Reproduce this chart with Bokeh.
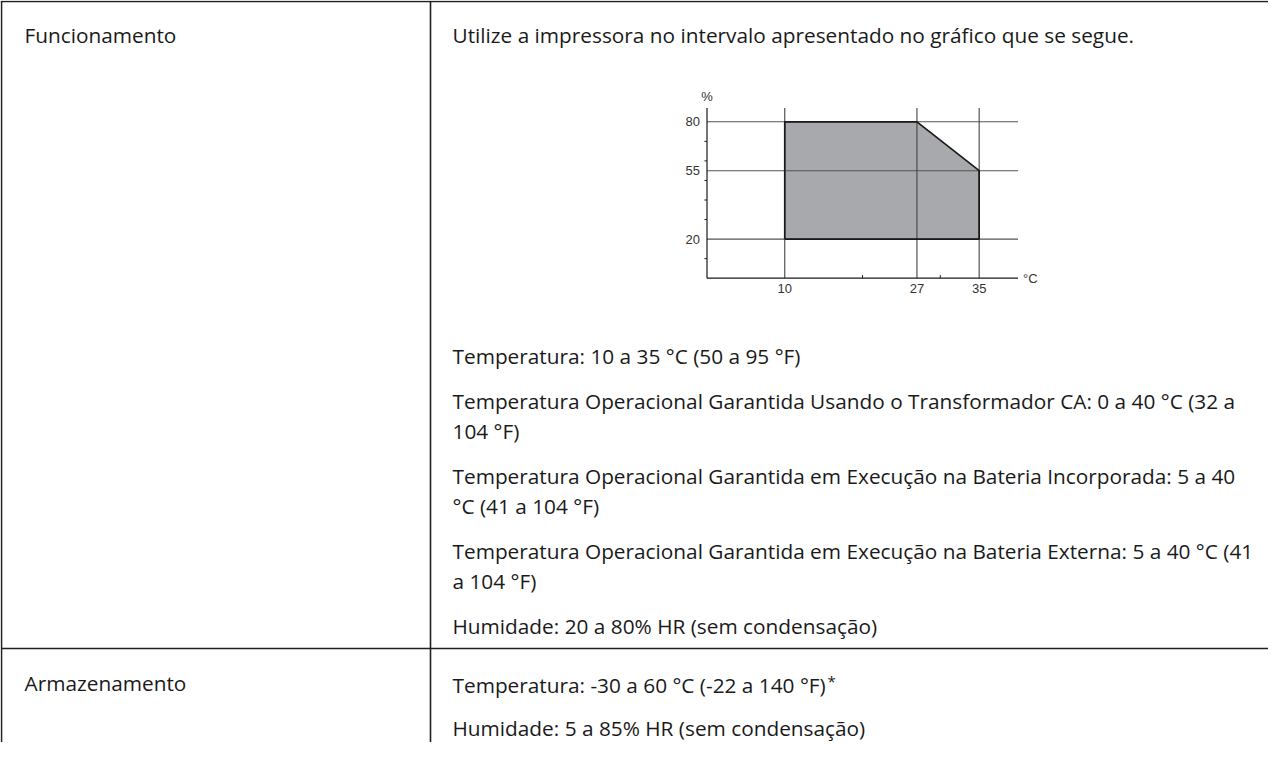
from bokeh.plotting import figure
from bokeh.models import Range1d, ColumnDataSource
from bokeh.core.properties import value
from bokeh.embed import file_html
from bokeh.resources import INLINE

# ---------------- data ----------------
temp_ticks = [10, 27, 35]
temp_labels = ["10", "27", "35"]
hum_ticks = [20, 55, 80]
hum_labels = ["20", "55", "80"]
temp_minor = [20, 30]
hum_minor = [10, 30, 40, 50, 60, 70]
region_temp = [10, 10, 27, 35, 35]
region_hum = [20, 80, 80, 55, 20]
temp_max = 40
hum_max = 87
temp_unit = "°C"
hum_unit = "%"

row_labels = ["Funcionamento", "Armazenamento"]
intro_text = "Utilize a impressora no intervalo apresentado no gráfico que se segue."
operation_paragraphs = [
    ["Temperatura: 10 a 35 °C (50 a 95 °F)"],
    ["Temperatura Operacional Garantida Usando o Transformador CA: 0 a 40 °C (32 a",
     "104 °F)"],
    ["Temperatura Operacional Garantida em Execução na Bateria Incorporada: 5 a 40",
     "°C (41 a 104 °F)"],
    ["Temperatura Operacional Garantida em Execução na Bateria Externa: 5 a 40 °C (41",
     "a 104 °F)"],
    ["Humidade: 20 a 80% HR (sem condensação)"],
]
storage_paragraphs = [
    ["Temperatura: -30 a 60 °C (-22 a 140 °F)"],
    ["Humidade: 5 a 85% HR (sem condensação)"],
]
footnote_mark = "*"

# ---------------- layout constants (page pixels) ----------------
W, H = 1268, 742
X0, Y0 = 8, 8
BODY_FONT = value("Open Sans")
BODY_SIZE = "20.8px"
TXT = "#1a1a1a"
LINE = "#231f20"

p = figure(width=W, height=H, output_backend="svg", toolbar_location=None,
           x_range=Range1d(X0, X0 + W), y_range=Range1d(Y0 + H, Y0),
           x_axis_type=None, y_axis_type=None, min_border=0,
           outline_line_color=None, background_fill_color="white",
           border_fill_color="white")
p.grid.visible = False

# chart placement: page x = CX0 + KX*temp ; page y = CY0 - KY*hum
CX0, KX = 714.5, 7.776
CY0, KY = 285.7, 1.955
p.extra_x_ranges = {"cx": Range1d((X0 - CX0) / KX, (X0 + W - CX0) / KX)}
p.extra_y_ranges = {"cy": Range1d((CY0 - (Y0 + H)) / KY, (CY0 - Y0) / KY)}
C = dict(x_range_name="cx", y_range_name="cy")

# ---------------- table lines ----------------
TOP, LEFT, DIV, ROW = 9, 9, 438, 656
p.segment(x0=[X0, LEFT, DIV, LEFT], y0=[TOP, TOP, TOP, ROW],
          x1=[X0 + W, LEFT, DIV, X0 + W], y1=[TOP, Y0 + H, Y0 + H, ROW],
          line_color=LINE, line_width=1.6)

# ---------------- texts ----------------
TX_LEFT, TX_RIGHT = 32, 460
xs, ys, ts = [], [], []
xs += [TX_LEFT, TX_LEFT]
ys += [42, 690]
ts += row_labels
xs.append(TX_RIGHT); ys.append(42); ts.append(intro_text)

y = 363
for para in operation_paragraphs:
    for line in para:
        xs.append(TX_RIGHT); ys.append(y); ts.append(line)
        y += 30
    y += 15
y = 692
for para in storage_paragraphs:
    for line in para:
        xs.append(TX_RIGHT); ys.append(y); ts.append(line)
        y += 30
    y += 13

p.text(x="x", y="y", text="t", source=ColumnDataSource(dict(x=xs, y=ys, t=ts)),
       text_font=BODY_FONT, text_font_size=BODY_SIZE, text_color=TXT,
       text_baseline="middle", text_align="left")
p.text(x=[835], y=[688], text=[footnote_mark], text_font=BODY_FONT,
       text_font_size="15px", text_color=TXT, text_baseline="middle",
       text_align="left")

# ---------------- chart ----------------
p.patch(region_temp, region_hum, fill_color="#a7a9ac", line_color=None, **C)
p.segment(x0=[0] * len(hum_ticks), y0=hum_ticks, x1=[temp_max] * len(hum_ticks),
          y1=hum_ticks, line_color="#555555", line_width=1.1, **C)
p.segment(x0=temp_ticks, y0=[0] * len(temp_ticks), x1=temp_ticks,
          y1=[hum_max] * len(temp_ticks), line_color="#444444", line_width=1.1, **C)
p.line(region_temp + region_temp[:1], region_hum + region_hum[:1],
       line_color="#1a1a1a", line_width=1.7, **C)
# axes
p.segment(x0=[0, 0], y0=[0, 0], x1=[0, temp_max], y1=[hum_max, 0],
          line_color="#1a1a1a", line_width=1.2, **C)
# minor ticks
p.segment(x0=temp_minor, y0=[0] * len(temp_minor), x1=temp_minor,
          y1=[1.6] * len(temp_minor), line_color="#1a1a1a", line_width=1, **C)
p.segment(x0=[-0.33] * len(hum_minor), y0=hum_minor, x1=[0] * len(hum_minor),
          y1=hum_minor, line_color="#1a1a1a", line_width=1, **C)
# tick labels
LBL_FONT = value("Liberation Sans")
p.text(x=temp_ticks, y=[0] * len(temp_ticks), text=temp_labels, y_offset=6,
       text_align="center", text_baseline="top", text_font=LBL_FONT,
       text_font_size="13px", text_color="#333333", **C)
p.text(x=[0] * len(hum_ticks), y=hum_ticks, text=hum_labels, x_offset=-7,
       text_align="right", text_baseline="middle", text_font=LBL_FONT,
       text_font_size="13px", text_color="#333333", **C)
p.text(x=[0], y=[hum_max], text=[hum_unit], y_offset=-12, text_align="center",
       text_baseline="middle", text_font=LBL_FONT, text_font_size="13px",
       text_color="#333333", **C)
p.text(x=[temp_max], y=[0], text=[temp_unit], x_offset=5, text_align="left",
       text_baseline="middle", text_font=LBL_FONT, text_font_size="13px",
       text_color="#333333", **C)

open("out.html", "w").write(file_html(p, INLINE))
